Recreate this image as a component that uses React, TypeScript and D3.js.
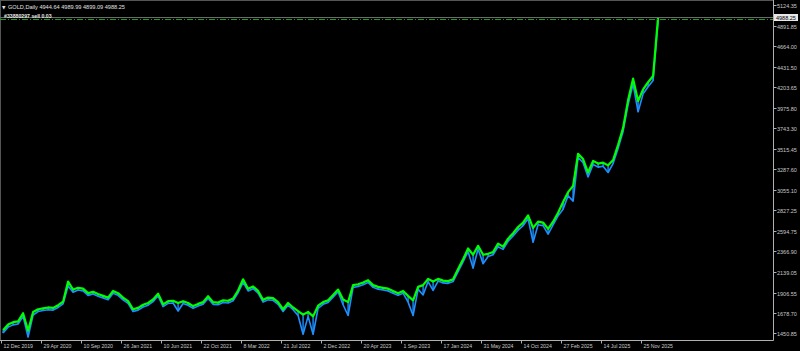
import React from "react";
import * as d3 from "d3";

// Sampled daily GOLD values (one sample every 12 daily bars, from 12 Dec 2019)
const highVals = [
  1485, 1550, 1575, 1585, 1675, 1480, 1690, 1720, 1730, 1740,
  1735, 1765, 1805, 2030, 1940, 1960, 1950, 1900, 1915, 1890,
  1870, 1850, 1925, 1900, 1850, 1810, 1720, 1735, 1770, 1790,
  1830, 1895, 1775, 1810, 1815, 1790, 1810, 1790, 1755, 1780,
  1800, 1865, 1800, 1795, 1820, 1815, 1840, 1930, 2055, 1950,
  1975, 1925, 1825, 1850, 1845, 1800, 1720, 1790, 1740, 1700,
  1660, 1690, 1640, 1760, 1800, 1820, 1880, 1940, 1830, 1800,
  1990, 2000, 2020, 2045, 1990, 1970, 1960, 1950, 1925, 1900,
  1925, 1870, 1820, 1970, 1990, 2060, 2030, 2060, 2040, 2035,
  2055, 2170, 2280, 2400, 2330, 2430, 2330, 2340, 2360, 2455,
  2420, 2510, 2570, 2640, 2690, 2770, 2630, 2700, 2690, 2620,
  2700, 2800, 2920, 3030, 3100, 3460, 3400, 3250, 3380, 3350,
  3360, 3330, 3390, 3560, 3750, 4060, 4300, 4050, 4180, 4260,
  4330, 4988,
];
const lowVals = [
  1455, 1520, 1545, 1555, 1640, 1410, 1655, 1695, 1705, 1715,
  1710, 1740, 1780, 1980, 1910, 1935, 1925, 1875, 1890, 1865,
  1845, 1825, 1900, 1875, 1825, 1785, 1695, 1710, 1745, 1765,
  1805, 1870, 1750, 1785, 1790, 1700, 1785, 1765, 1730, 1755,
  1775, 1840, 1775, 1770, 1795, 1790, 1815, 1905, 2020, 1925,
  1950, 1900, 1800, 1825, 1820, 1775, 1695, 1765, 1715, 1650,
  1440, 1640, 1440, 1730, 1775, 1795, 1855, 1915, 1770, 1650,
  1965, 1975, 1995, 2020, 1965, 1945, 1935, 1925, 1900, 1875,
  1900, 1800, 1650, 1945, 1880, 2030, 1930, 2035, 2015, 2010,
  2030, 2140, 2250, 2365, 2180, 2395, 2230, 2310, 2330, 2420,
  2390, 2480, 2540, 2605, 2655, 2735, 2470, 2665, 2655, 2560,
  2665, 2765, 2840, 2990, 2930, 3420, 3360, 3200, 3340, 3310,
  3320, 3250, 3350, 3520, 3710, 4010, 4240, 3930, 4130, 4210,
  4280, 4940,
];

const xTickLabels = [
  "12 Dec 2019", "29 Apr 2020", "10 Sep 2020", "26 Jan 2021", "10 Jun 2021",
  "22 Oct 2021", "8 Mar 2022", "21 Jul 2022", "2 Dec 2022", "20 Apr 2023",
  "1 Sep 2023", "17 Jan 2024", "31 May 2024", "14 Oct 2024", "27 Feb 2025",
  "14 Jul 2025", "25 Nov 2025",
];
const yTickLabels = [
  "5124.35", "4891.85", "4664.00", "4431.50", "4203.65", "3975.80", "3743.30",
  "3515.45", "3287.60", "3055.10", "2827.25", "2594.75", "2366.90", "2139.05",
  "1906.55", "1678.70", "1450.85",
];
const headerText = "GOLD,Daily  4944.64 4989.99 4899.09 4988.25";
const orderText = "#33880297 sell 0.03";
const lastPrice = 4988.25;
const orderPrice = 4970;

const W = 800;
const H = 351;
const STEP = 12; // bars per sample
const OFFSET = 5; // first sample bar
const BARS_PER_TICK = 96;
const axisX = 773.5;
const axisY = 340.5;

export default function App() {
  const x = d3.scaleLinear().domain([0, BARS_PER_TICK]).range([1, 41]);
  const y = d3.scaleLinear().domain([1450.85, 5124.35]).range([333.3, 5]);

  const idx = highVals.map((_, i) => OFFSET + i * STEP);
  const line = d3
    .line<number>()
    .x((_, i) => x(idx[i]))
    .y((d) => y(d));
  const font = "'Liberation Sans', Arial, sans-serif";
  const axisColor = "#b0b0b0";

  return (
    <svg
      width={W}
      height={H}
      style={{ position: "absolute", left: 0, top: 0, display: "block" }}
    >
      <rect x={0} y={0} width={W} height={H} fill="#000" />
      {/* chart border */}
      <line x1={0.5} y1={0} x2={0.5} y2={axisY} stroke="#555" strokeWidth={1} />
      <line x1={0} y1={0.5} x2={axisX} y2={0.5} stroke="#555" strokeWidth={1} />

      {/* series: lows (blue) under highs (green) */}
      <path d={line(lowVals) || ""} fill="none" stroke="#1e90ff" strokeWidth={1.6} strokeLinejoin="round" />
      {highVals.map((h, i) => (
        <line
          key={i}
          x1={x(idx[i])}
          x2={x(idx[i])}
          y1={y(h)}
          y2={y(lowVals[i])}
          stroke="#1e90ff"
          strokeWidth={1.4}
        />
      ))}
      <path d={line(highVals) || ""} fill="none" stroke="#00ff00" strokeWidth={2.2} strokeLinejoin="round" />

      {/* price line and order line */}
      <line x1={0} x2={axisX} y1={Math.round(y(lastPrice)) + 0.5} y2={Math.round(y(lastPrice)) + 0.5} stroke="#6a6a6a" strokeWidth={1} />
      <line x1={0} x2={axisX} y1={Math.round(y(orderPrice)) + 0.5} y2={Math.round(y(orderPrice)) + 0.5} stroke="#1f9a1f" strokeWidth={1} strokeDasharray="6 2 1 2" />
      <text x={4} y={y(orderPrice) - 1} fill="#e8e8e8" fontSize={5.2} fontFamily={font} fontWeight="bold">{orderText}</text>

      {/* header */}
      <text x={2} y={9} fill="#e0e0e0" fontSize={4.5} fontFamily="'DejaVu Sans', sans-serif">▼</text>
      <text x={8} y={9.2} fill="#e0e0e0" fontSize={5.6} fontFamily={font}>{headerText}</text>

      {/* axes */}
      <line x1={axisX} y1={0} x2={axisX} y2={axisY} stroke={axisColor} strokeWidth={1} />
      <line x1={0} y1={axisY} x2={axisX} y2={axisY} stroke={axisColor} strokeWidth={1} />

      {yTickLabels.map((t) => {
        const yy = Math.round(y(+t)) + 0.5;
        return (
          <g key={t}>
            <line x1={axisX} x2={axisX + 3} y1={yy} y2={yy} stroke={axisColor} />
            <text x={777} y={yy + 2} fill="#c8c8c8" fontSize={5.5} fontFamily={font}>{t}</text>
          </g>
        );
      })}

      {xTickLabels.map((t, i) => {
        const xx = Math.round(x(i * BARS_PER_TICK)) + 0.5;
        return (
          <g key={t}>
            <line x1={xx} x2={xx} y1={axisY} y2={axisY + 3} stroke={axisColor} />
            <text x={xx + 2} y={348} fill="#c8c8c8" fontSize={5.2} fontFamily={font}>{t}</text>
          </g>
        );
      })}

      {/* last price label */}
      <rect x={774} y={Math.round(y(lastPrice)) - 3} width={24} height={7} fill="#e8e8e8" />
      <text x={776} y={Math.round(y(lastPrice)) + 2.5} fill="#000" fontSize={5.5} fontFamily={font}>{lastPrice.toFixed(2)}</text>
    </svg>
  );
}
